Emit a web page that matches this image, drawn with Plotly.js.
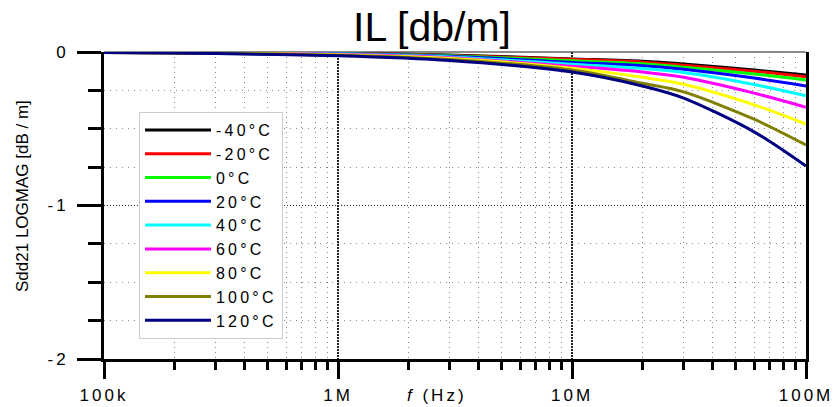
<!DOCTYPE html>
<html>
<head>
<meta charset="utf-8">
<script src="https://cdn.plot.ly/plotly-3.0.1.min.js"></script>
<style>
  html, body { margin: 0; padding: 0; background: #fff; }
  #chart { width: 840px; height: 407px; }
  .xtick text, .ytick text { letter-spacing: 3px; }
  .legendtext { letter-spacing: 3.2px; }
  g.annotation[data-index="0"] text { letter-spacing: 3px; }
</style>
</head>
<body>
<div id="chart"></div>
<script>
// Frequencies (Hz)
const freq = [1e5, 3e5, 1e6, 3e6, 1e7, 2e7, 3e7, 6e7, 1e8];

// Series names
const seriesNames = ['-40°C', '-20°C', '0°C', '20°C', '40°C', '60°C', '80°C', '100°C', '120°C'];

// Sdd21 [dB/m] per temperature
const ilM40 = [-0.002, -0.004, -0.008, -0.020, -0.045, -0.060, -0.078, -0.117, -0.150];
const ilM20 = [-0.002, -0.004, -0.009, -0.022, -0.048, -0.066, -0.086, -0.126, -0.161];
const il0   = [-0.002, -0.004, -0.010, -0.025, -0.057, -0.077, -0.099, -0.143, -0.182];
const il20  = [-0.002, -0.005, -0.011, -0.028, -0.068, -0.090, -0.113, -0.170, -0.221];
const il40  = [-0.002, -0.005, -0.013, -0.032, -0.080, -0.108, -0.134, -0.212, -0.285];
const il60  = [-0.003, -0.006, -0.015, -0.037, -0.093, -0.130, -0.165, -0.268, -0.360];
const il80  = [-0.003, -0.007, -0.018, -0.043, -0.105, -0.165, -0.210, -0.344, -0.469];
const il100 = [-0.003, -0.008, -0.021, -0.049, -0.118, -0.204, -0.260, -0.438, -0.606];
const il120 = [-0.004, -0.010, -0.025, -0.056, -0.130, -0.221, -0.300, -0.520, -0.743];

const seriesValues = [ilM40, ilM20, il0, il20, il40, il60, il80, il100, il120];
const seriesColors = ['#000000', '#ff0000', '#00ff00', '#0000ff', '#00ffff', '#ff00ff', '#ffff00', '#808000', '#000080'];

// Axis ticks
const xTickVals = [1e5, 1e6, 1e7, 1e8];
const xTickText = ['100k', '1M', '10M', '100M'];
const yTickVals = [0, -1, -2];
const yTickText = ['0', '-1', '-2'];
const yMinorVals = [-0.25, -0.5, -0.75, -1.25, -1.5, -1.75];
const xMinorVals = [];
[1e5, 1e6, 1e7].forEach(function (d) { for (let k = 2; k <= 9; k++) xMinorVals.push(d * k); });

const traces = seriesNames.map(function (name, i) {
  return {
    type: 'scatter', mode: 'lines', name: name,
    x: freq, y: seriesValues[i],
    line: { color: seriesColors[i], width: 3, shape: 'spline', smoothing: 0.8 }
  };
});

const layout = {
  width: 840, height: 407,
  margin: { l: 104, r: 34, t: 52, b: 48, pad: 0 },
  paper_bgcolor: '#ffffff', plot_bgcolor: '#ffffff',
  font: { family: 'Liberation Sans, Arial, sans-serif', color: '#000000', size: 17 },
  title: { text: 'IL [db/m]', font: { size: 41, color: '#000000' }, x: 432 / 840, xanchor: 'center', y: 1 - 27 / 407, yanchor: 'middle' },
  showlegend: true,
  legend: {
    x: (139 - 104) / 702, y: (359 - 112) / 307, xanchor: 'left', yanchor: 'top',
    bgcolor: '#ffffff', bordercolor: '#cccccc', borderwidth: 1,
    font: { size: 16, color: '#000000' }, itemwidth: 66, tracegroupgap: 0
  },
  xaxis: {
    type: 'log', range: [5, 8], tickmode: 'array', tickvals: xTickVals, ticktext: xTickText,
    ticks: 'outside', ticklen: 17, tickwidth: 3, tickcolor: '#000000',
    showline: true, linewidth: 3, linecolor: '#000000', mirror: false, zeroline: false,
    showgrid: true, gridcolor: '#222222', gridwidth: 2, griddash: '2px,1px',
    tickfont: { size: 17 }, ticklabelstandoff: 2,
    minor: { tickmode: 'array', tickvals: xMinorVals, ticks: 'outside', ticklen: 8, tickwidth: 3, tickcolor: '#000000',
             showgrid: true, gridcolor: '#888888', gridwidth: 1, griddash: '1px,4px' },
    fixedrange: true
  },
  yaxis: {
    range: [-2, 0], tickmode: 'array', tickvals: yTickVals, ticktext: yTickText,
    ticks: 'outside', ticklen: 24, tickwidth: 3, tickcolor: '#000000',
    showline: true, linewidth: 3, linecolor: '#000000', mirror: true, zeroline: false,
    showgrid: true, gridcolor: '#222222', gridwidth: 1, griddash: '1px,2px',
    tickfont: { size: 17 }, ticklabelstandoff: 5,
    minor: { tickmode: 'array', tickvals: yMinorVals, ticks: 'outside', ticklen: 13, tickwidth: 3, tickcolor: '#000000',
             showgrid: true, gridcolor: '#888888', gridwidth: 1, griddash: '1px,5px' },
    fixedrange: true
  },
  shapes: [
    { type: 'line', xref: 'paper', yref: 'paper', x0: 0, x1: 1, y0: 1, y1: 1, line: { color: '#666666', width: 1.5 }, layer: 'below' }
  ],
  annotations: [
    { text: '<i>f</i> (Hz)', xref: 'paper', yref: 'paper', x: (437 - 104) / 702, y: (359 - 395) / 307,
      xanchor: 'center', yanchor: 'middle', showarrow: false, font: { size: 17, color: '#000000' } },
    { text: 'Sdd21 LOGMAG [dB / m]', xref: 'paper', yref: 'paper', x: (22 - 104) / 702, y: (359 - 196) / 307,
      xanchor: 'center', yanchor: 'middle', textangle: -90, showarrow: false, font: { size: 17, color: '#000000' } }
  ]
};

Plotly.newPlot('chart', traces, layout, { staticPlot: true, displayModeBar: false });
</script>
</body>
</html>
